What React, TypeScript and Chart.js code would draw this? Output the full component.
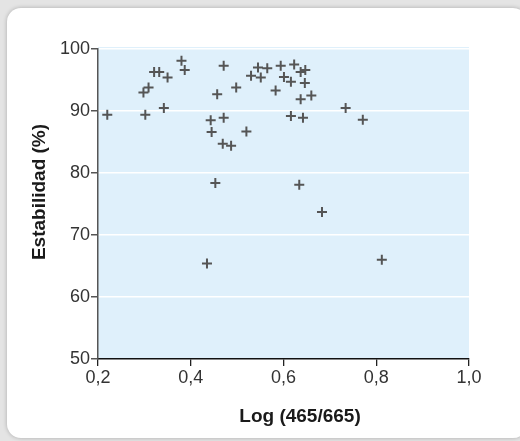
import React, { useEffect, useRef } from "react";
import { Chart, registerables } from "chart.js";

Chart.register(...registerables);

const xValues = [
  0.220, 0.298, 0.309, 0.302, 0.321, 0.332, 0.350, 0.342, 0.380, 0.387,
  0.471, 0.457, 0.498, 0.443, 0.445, 0.471, 0.469, 0.487, 0.520, 0.453,
  0.435, 0.530, 0.545, 0.551, 0.565, 0.594, 0.583, 0.601, 0.616, 0.623,
  0.637, 0.647, 0.646, 0.637, 0.660, 0.616, 0.642, 0.634, 0.683, 0.734,
  0.771, 0.812,
];
const yValues = [
  89.4, 93.0, 93.8, 89.4, 96.3, 96.3, 95.4, 90.5, 98.1, 96.6,
  97.3, 92.7, 93.8, 88.5, 86.6, 88.9, 84.7, 84.4, 86.7, 78.4,
  65.4, 95.7, 97.0, 95.4, 96.9, 97.3, 93.3, 95.5, 94.7, 97.5,
  96.3, 96.6, 94.5, 91.9, 92.5, 89.2, 88.9, 78.1, 73.7, 90.5,
  88.6, 66.0,
];
const xTicks = [0.2, 0.4, 0.6, 0.8, 1.0];
const xTickLabels = ["0,2", "0,4", "0,6", "0,8", "1,0"];
const yTicks = [50, 60, 70, 80, 90, 100];
const xTitle = "Log (465/665)";
const yTitle = "Estabilidad (%)";

const FONT = "'Liberation Sans', Arial, sans-serif";

const bgPlugin = {
  id: "plotBg",
  beforeDraw(chart: any) {
    const { ctx, chartArea } = chart;
    if (!chartArea) return;
    ctx.save();
    ctx.fillStyle = "#dff0fb";
    ctx.fillRect(chartArea.left, chartArea.top - 2, chartArea.right - chartArea.left, chartArea.bottom - chartArea.top + 2);
    ctx.restore();
  },
};

const titlePlugin = {
  id: "axisTitles",
  afterDraw(chart: any) {
    const { ctx } = chart;
    ctx.save();
    ctx.fillStyle = "#1a1a1a";
    ctx.textAlign = "center";
    ctx.textBaseline = "middle";
    ctx.font = `bold 19px ${FONT}`;
    ctx.fillText(xTitle, 300, 417);
    ctx.translate(40, 192);
    ctx.rotate(-Math.PI / 2);
    ctx.font = `bold 19px ${FONT}`;
    ctx.fillText(yTitle, 0, 0);
    ctx.restore();
  },
};

export default function App() {
  const ref = useRef<HTMLCanvasElement | null>(null);
  useEffect(() => {
    if (!ref.current) return;
    const data = xValues.map((x, i) => ({ x, y: yValues[i] }));
    const chart = new Chart(ref.current, {
      type: "scatter",
      data: {
        datasets: [
          {
            data,
            pointStyle: "cross",
            pointRadius: 5,
            pointBorderWidth: 2,
            borderColor: "#555555",
            backgroundColor: "#555555",
            pointHoverRadius: 5,
          },
        ],
      },
      options: {
        responsive: false,
        animation: false,
        events: [],
        layout: { padding: { top: 49, right: 51, left: 0, bottom: 0 } },
        plugins: { legend: { display: false }, tooltip: { enabled: false } },
        scales: {
          x: {
            type: "linear",
            min: 0.2,
            max: 1.0,
            afterBuildTicks: (s: any) => {
              s.ticks = xTicks.map((v) => ({ value: v }));
            },
            afterFit: (s: any) => {
              s.height = 82;
            },
            ticks: {
              callback: (v: any) => {
                const i = xTicks.findIndex((t) => Math.abs(t - v) < 1e-6);
                return i >= 0 ? xTickLabels[i] : "";
              },
              font: { family: FONT, size: 18 },
              color: "#333333",
              padding: 1,
              maxRotation: 0,
              autoSkip: false,
            },
            grid: { drawOnChartArea: false, tickColor: "#222222", tickLength: 7, lineWidth: 1.3 },
            border: { color: "#111111", width: 1.5 },
            title: { display: false },
          },
          y: {
            min: 50,
            max: 100,
            afterBuildTicks: (s: any) => {
              s.ticks = yTicks.map((v) => ({ value: v }));
            },
            afterFit: (s: any) => {
              s.width = 98;
            },
            ticks: {
              font: { family: FONT, size: 18 },
              color: "#333333",
              padding: 1,
              autoSkip: false,
            },
            grid: {
              color: (c: any) => (c.tick && c.tick.value === 50 ? "rgba(0,0,0,0)" : "#ffffff"),
              lineWidth: 1.5,
              tickColor: "#555555",
              tickLength: 7,
            },
            border: { color: "#555555", width: 1.5 },
            title: { display: false },
          },
        },
      },
      plugins: [bgPlugin, titlePlugin],
    } as any);
    return () => chart.destroy();
  }, []);

  return (
    <div style={{ position: "fixed", left: 0, top: 0, width: 520, height: 441, background: "#e4e4e4", overflow: "hidden" }}>
      <div
        style={{
          position: "absolute",
          left: 7,
          top: 8,
          width: 520,
          height: 430,
          background: "#ffffff",
          borderRadius: 14,
          boxShadow: "0 0 4px rgba(0,0,0,0.25)",
        }}
      />
      <canvas ref={ref} width={520} height={441} style={{ position: "absolute", left: 0, top: 0, width: 520, height: 441 }} />
    </div>
  );
}
